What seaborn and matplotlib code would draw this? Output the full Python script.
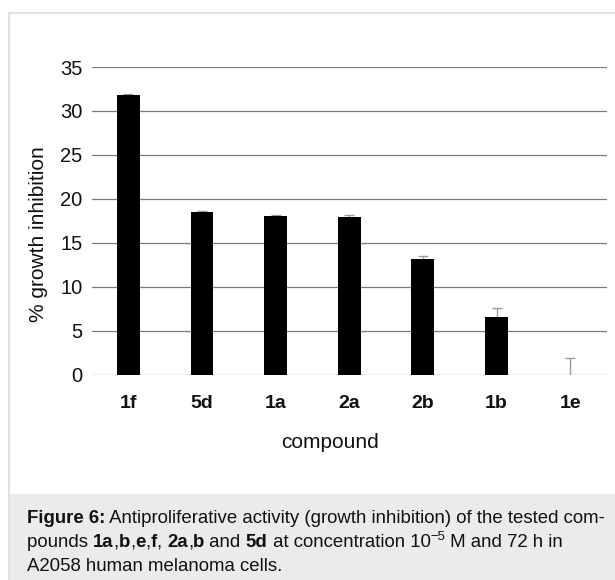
import matplotlib
matplotlib.use("Agg")
import matplotlib.pyplot as plt
import seaborn as sns
import pandas as pd
from matplotlib.patches import Rectangle

compounds = ["1f", "5d", "1a", "2a", "2b", "1b", "1e"]
inhibition = [31.8, 18.5, 18.0, 17.95, 13.1, 6.5, 0.0]
errors = [0.15, 0.15, 0.2, 0.2, 0.4, 1.1, 1.85]
y_ticks = [0, 5, 10, 15, 20, 25, 30, 35]
x_title = "compound"
y_title = "% growth inhibition"

sns.set_theme(style="white")
plt.rcParams["font.family"] = ["Liberation Sans", "DejaVu Sans"]

W, H = 615, 580
fig = plt.figure(figsize=(W / 100, H / 100), dpi=100)

def fx(px):
    return px / W

def fy(py):
    return 1 - py / H

# outer frame and caption box
frame = Rectangle((fx(9), fy(H + 5)), fx(W + 10 - 9), (H + 5 - 13) / H,
                  transform=fig.transFigure, facecolor="white",
                  edgecolor="#dcdcdc", linewidth=1.2, zorder=-5)
capbox = Rectangle((fx(10), 0), fx(W - 10), (H - 494) / H,
                   transform=fig.transFigure, facecolor="#ebebeb",
                   edgecolor="none", zorder=-4)
fig.add_artist(frame)
fig.add_artist(capbox)

ax_left, ax_right, ax_top, ax_bot = 91.5, 607, 67, 374.5
ax = fig.add_axes([fx(ax_left), fy(ax_bot), fx(ax_right - ax_left), (ax_bot - ax_top) / H])
ax.set_facecolor("none")
ax.set_zorder(2)

df = pd.DataFrame({"compound": compounds, "inhibition": inhibition})
sns.barplot(data=df, x="compound", y="inhibition", color="black",
            width=0.31, errorbar=None, ax=ax, saturation=1, zorder=3)
for p in ax.patches:
    p.set_edgecolor("black")
    p.set_linewidth(0)

ax.errorbar(range(len(compounds)), inhibition, yerr=errors,
            fmt="none", ecolor="#9a9a9a", elinewidth=1.0, capsize=3.5,
            capthick=1.0, zorder=2)

ax.set_ylim(0, 35)
ax.set_xlim(-0.5, len(compounds) - 0.5)
ax.set_yticks(y_ticks)
for t in y_ticks:
    ax.axhline(t, color="#7a7a7a", linewidth=0.9, zorder=1)
for s in ax.spines.values():
    s.set_visible(False)
ax.tick_params(axis="y", length=0, pad=6.5, labelsize=14.5, colors="#111111")
ax.tick_params(axis="x", length=0, pad=15, labelsize=14, colors="#111111")
for lab in ax.get_xticklabels():
    lab.set_fontweight("bold")
ax.set_xlabel("")
ax.set_ylabel("")

fig.text(fx(330), fy(443), x_title, fontsize=15, color="#111111",
         ha="center", va="center")
fig.text(fx(39), fy(234), y_title, fontsize=15, color="#111111",
         ha="center", va="center", rotation=90)

# caption with mixed styles
fig.canvas.draw()
renderer = fig.canvas.get_renderer()
cap_size = 13.45

def write_line(pieces, x0, baseline):
    x = x0
    for txt, weight, sup in pieces:
        size = cap_size * (0.7 if sup else 1.0)
        yb = baseline - (7 if sup else 0)
        t = fig.text(fx(x), fy(yb), txt, fontsize=size, fontweight=weight,
                     color="#111111", ha="left", va="baseline", zorder=5)
        bb = t.get_window_extent(renderer=renderer)
        x += bb.width

N, B = "normal", "bold"
write_line([("Figure 6:", B, False),
            (" Antiproliferative activity (growth inhibition) of the tested com-", N, False)],
           27, 523)
write_line([("pounds ", N, False), ("1a", B, False), (",", N, False), ("b", B, False),
            (",", N, False), ("e", B, False), (",", N, False), ("f", B, False),
            (", ", N, False), ("2a", B, False), (",", N, False), ("b", B, False),
            (" and ", N, False), ("5d", B, False),
            (" at concentration 10", N, False), ("\u22125", N, True),
            (" M and 72 h in", N, False)],
           27, 547)
write_line([("A2058 human melanoma cells.", N, False)], 27, 571)

fig.savefig("out.png", dpi=100)
